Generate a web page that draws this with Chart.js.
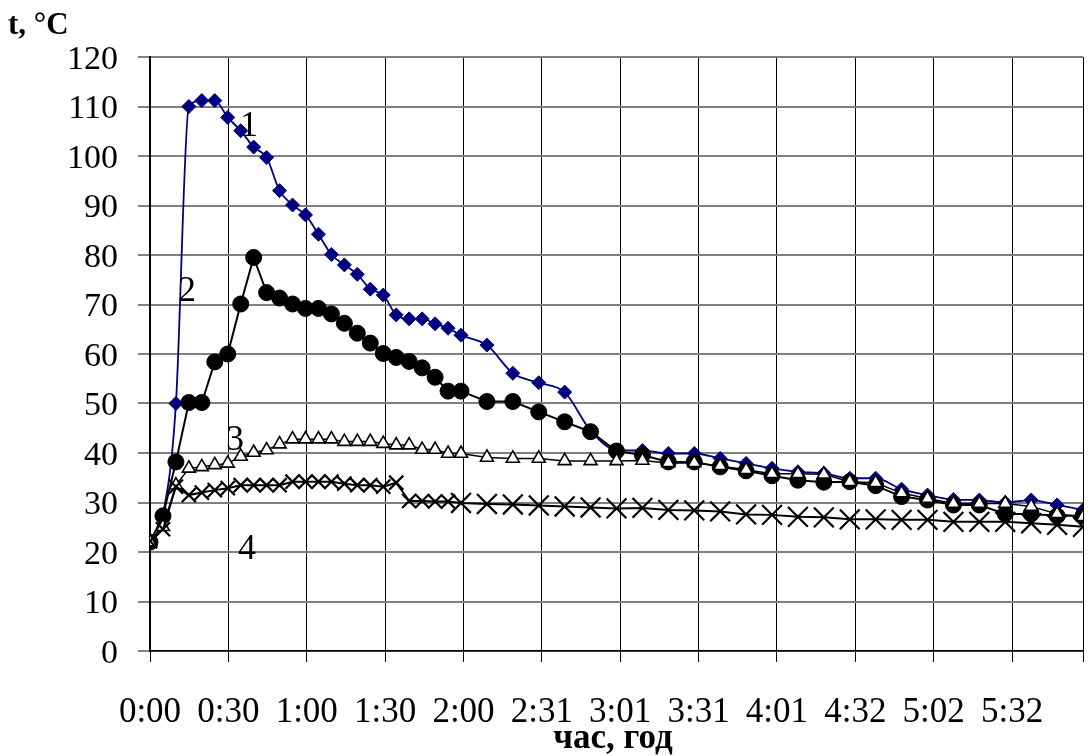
<!DOCTYPE html>
<html>
<head>
<meta charset="utf-8">
<script src="https://cdn.jsdelivr.net/npm/chart.js@4.4.1/dist/chart.umd.min.js"></script>
<style>
  html, body { margin: 0; padding: 0; background: #ffffff; }
  #wrap { width: 1092px; height: 756px; position: relative; }
</style>
</head>
<body>
<div id="wrap"><canvas id="c"></canvas></div>
<script>
// time of each reading, minutes from start
const minutes = [0,5,10,15,20,25,30,35,40,45,50,55,60,65,70,75,80,85,90,95,100,105,110,115,120,
  130,140,150,160,170,180,190,200,210,220,230,240,250,260,270,280,290,300,310,320,330,340,350,360];

// series 1 (navy diamonds)
const series1 = [22,27.5,50,110,111.2,111.2,107.8,105.1,101.8,99.7,93,90.1,88.1,84.2,80.1,78,76.1,73.1,71.9,67.9,67.1,67.1,66.1,65.2,63.8,
  61.8,56.1,54.2,52.3,44.5,40.6,40.5,39.9,39.9,38.9,37.9,36.9,36.2,35.9,34.9,34.9,32.7,31.5,30.6,30.5,30,30.5,29.5,28.5];
// series 2 (black circles)
const series2 = [22,27.3,38.2,50.2,50.2,58.4,60,70.1,79.5,72.4,71.3,70.1,69.2,69.2,68.1,66.2,64.2,62.2,60.1,59.3,58.5,57.2,55.3,52.5,52.5,
  50.4,50.4,48.3,46.3,44.3,40.4,39.6,38.2,38.2,37.2,36.4,35.4,34.5,34.1,34.2,33.4,31.2,30.5,29.5,29.5,27.7,27.7,27.3,27.3];
// series 3 (white triangles)
const series3 = [22,25.1,33.5,36.9,37.2,37.6,37.9,39.3,40.1,40.6,41.8,42.8,42.8,42.8,42.8,42.3,42.3,42.3,41.9,41.6,41.6,40.7,40.7,39.9,39.9,
  39.1,38.9,38.9,38.4,38.4,38.4,38.5,38,38,37.4,36.6,35.8,35.8,35.7,34.2,34,31.9,30.8,29.8,29.8,29.8,29.2,27.7,27.1];
// series 4 (crosses)
const series4 = [22.2,24.6,33.2,31.5,32,32.5,32.9,33.5,33.5,33.5,33.5,34.2,34.2,34.2,34.2,33.8,33.5,33.5,33.2,34,30.3,30.3,30.2,30.2,29.9,
  29.7,29.6,29.4,29.2,29.0,28.8,28.9,28.5,28.4,28.2,27.6,27.5,27.1,27.0,26.6,26.6,26.5,26.5,26.1,26.1,26.1,25.8,25.5,25.1];

// x-axis tick labels (major unit 0.021 day = 30.24 min)
const xTickLabels = ['0:00','0:30','1:00','1:30','2:00','2:31','3:01','3:31','4:01','4:32','5:02','5:32'];
const xMajorUnit = 30.24;
const xMax = 360;

// curve labels: text, minutes, °C
const curveLabelText = ['1','2','3','4'];
const curveLabelX = [38.2, 14.3, 32.8, 37.4];
const curveLabelY = [105.9, 72.7, 42.6, 20.4];

const yTitle = 't, °C';
const xTitle = 'час, год';

function pts(vals) { return minutes.map((m, i) => ({ x: m, y: vals[i] })); }

const SERIF = "'Liberation Serif', 'Times New Roman', serif";

const textPlugin = {
  id: 'texts',
  afterDraw(chart) {
    const ctx = chart.ctx;
    const xs = chart.scales.x, ys = chart.scales.y;
    ctx.save();
    ctx.fillStyle = '#000';
    ctx.font = `bold 31px ${SERIF}`;
    ctx.textAlign = 'left';
    ctx.textBaseline = 'alphabetic';
    ctx.fillText(yTitle, 8, 34);
    ctx.font = `bold 35px ${SERIF}`;
    ctx.textAlign = 'center';
    ctx.fillText(xTitle, 613, 748);
    ctx.font = `36px ${SERIF}`;
    ctx.textBaseline = 'middle';
    for (let i = 0; i < curveLabelText.length; i++) {
      ctx.fillText(curveLabelText[i], xs.getPixelForValue(curveLabelX[i]), ys.getPixelForValue(curveLabelY[i]));
    }
    ctx.restore();
  }
};

new Chart(document.getElementById('c'), {
  type: 'line',
  data: {
    datasets: [
      { data: pts(series1), borderColor: '#000080', backgroundColor: '#000080', borderWidth: 1.8,
        pointStyle: 'rectRot', pointRadius: 7, pointBorderWidth: 1, cubicInterpolationMode: 'monotone', order: 4 },
      { data: pts(series2), borderColor: '#000000', backgroundColor: '#000000', borderWidth: 2,
        pointStyle: 'circle', pointRadius: 8, pointBorderWidth: 1, tension: 0, order: 3 },
      { data: pts(series3), borderColor: '#000000', backgroundColor: '#ffffff', borderWidth: 1.5,
        pointStyle: 'triangle', pointRadius: 7.5, pointBorderWidth: 1.6, tension: 0, order: 2 },
      { data: pts(series4), borderColor: '#000000', backgroundColor: '#000000', borderWidth: 2,
        pointStyle: 'crossRot', pointBorderWidth: 2.2, tension: 0, order: 1,
        pointRadius: (c) => (c.raw && c.raw.x >= 120 ? 14 : 10) }
    ]
  },
  options: {
    responsive: true,
    maintainAspectRatio: false,
    animation: false,
    events: [],
    layout: { autoPadding: false, padding: { top: 57, right: 9, left: 0, bottom: 0 } },
    plugins: { legend: { display: false }, tooltip: { enabled: false } },
    scales: {
      x: {
        type: 'linear',
        min: 0, max: xMax,
        afterBuildTicks(scale) {
          const t = [];
          for (let i = 0; i < xTickLabels.length; i++) t.push({ value: i * xMajorUnit });
          t.push({ value: xMax });
          scale.ticks = t;
        },
        afterFit(scale) { scale.height = 105; },
        grid: { color: '#000000', lineWidth: 1, tickLength: 11, tickColor: '#000000', tickWidth: 1 },
        border: { color: '#000000', width: 1.5 },
        ticks: {
          autoSkip: false, maxRotation: 0, padding: 0, color: '#000',
          font: { family: SERIF, size: 35, lineHeight: 2.93 },
          callback: (v, i) => (i < xTickLabels.length ? xTickLabels[i] : '')
        }
      },
      y: {
        min: 0, max: 120,
        afterFit(scale) { scale.width = 150; },
        grid: { color: '#808080', lineWidth: 2, tickLength: 12, tickColor: '#808080' },
        border: { color: '#000000', width: 2 },
        ticks: { stepSize: 10, padding: 20, labelOffset: 3, color: '#000', font: { family: SERIF, size: 34 } }
      }
    }
  },
  plugins: [textPlugin]
});
</script>
</body>
</html>
